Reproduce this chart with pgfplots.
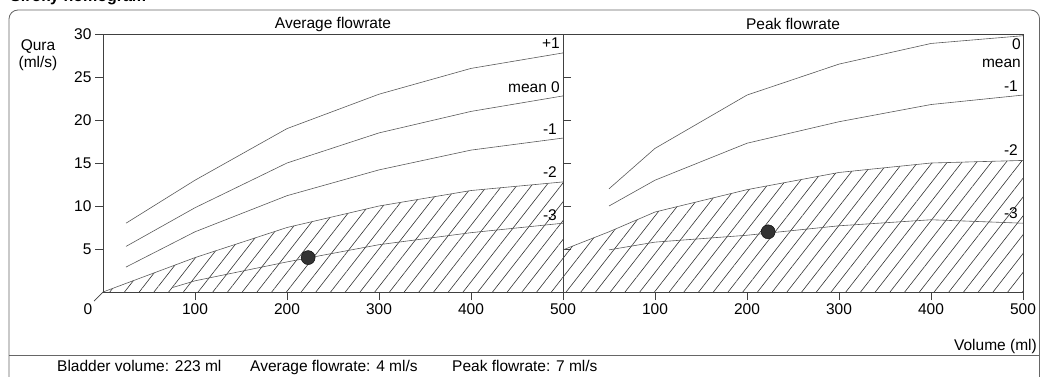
\documentclass[border=0pt]{standalone}
\usepackage{pgfplots}
\pgfplotsset{compat=1.18}
\usepackage{fontspec}
\setmainfont{Liberation Sans}
\usetikzlibrary{patterns.meta}
\definecolor{frame}{gray}{0.40}
\definecolor{axisc}{gray}{0.25}
\definecolor{curvec}{gray}{0.35}
\newcommand{\fs}{\fontsize{15.5}{18}\selectfont}
\pgfplotsset{/pgf/number format/assume math mode=true}
\begin{document}
\begin{tikzpicture}[x=1pt,y=1pt]
\useasboundingbox (0,0) rectangle (1040,376);
% outer frame
\draw[frame, line width=0.8pt, rounded corners=9pt] (9,-20) -- (9,366) -- (1039.6,366) -- (1039.6,-20);
\draw[frame, line width=0.9pt] (9,21) -- (1045,21);
\node[anchor=base west, inner sep=0pt, font=\bfseries\fontsize{16}{18}\selectfont] at (10,374) {Siroky nomogram};
% left panel
\begin{axis}[
  at={(103pt,84pt)}, anchor=south west, scale only axis,
  width=460pt, height=258pt,
  xmin=0, xmax=500, ymin=0, ymax=30,
  xtick={100,200,300,400,500}, ytick={5,10,...,30},
  xtick pos=bottom, ytick pos=both, yticklabel pos=left,
  tick align=outside, major tick length=8pt,
  axis line style={axisc, line width=0.8pt},
  every tick/.style={axisc, line width=0.7pt},
  ticklabel style={font=\fs, text=black},
  extra x ticks={0},
  extra x tick style={major tick length=0pt, xticklabel style={xshift=-15pt, yshift=-8pt}},
  axis on top, clip=false,
]
\addplot[draw=none, pattern={Lines[angle=52,distance=11.6pt,line width=0.6pt]}, pattern color=black!80]
  coordinates {(0,0)(100,4)(200,7.5)(300,10)(400,11.8)(500,12.8)} \closedcycle;
\addplot[curvec, line width=0.6pt] coordinates {(0,0)(100,4)(200,7.5)(300,10)(400,11.8)(500,12.8)};
\addplot[curvec, line width=0.6pt] coordinates {(25,8)(100,13)(200,19)(300,23)(400,26)(500,27.8)};
\addplot[curvec, line width=0.6pt] coordinates {(25,5.3)(100,9.8)(200,15)(300,18.5)(400,21)(500,22.8)};
\addplot[curvec, line width=0.6pt] coordinates {(25,2.9)(100,7)(200,11.2)(300,14.2)(400,16.5)(500,17.9)};
\addplot[curvec, line width=0.6pt] coordinates {(75,0.5)(100,1.3)(200,3.5)(300,5.5)(400,6.9)(500,8)};
\addplot[only marks, mark=*, mark size=7pt, mark options={fill=black!80, draw=black}] coordinates {(223,4)};
\draw[axisc, line width=0.7pt] (axis cs:0,0) -- ++(-9pt,-9pt);
\end{axis}
% right panel
\begin{axis}[
  at={(563pt,84pt)}, anchor=south west, scale only axis,
  width=460pt, height=258pt,
  xmin=0, xmax=500, ymin=0, ymax=30,
  xtick={100,200,300,400,500}, ytick=\empty,
  xtick pos=bottom,
  tick align=outside, major tick length=8pt,
  axis line style={axisc, line width=0.8pt},
  every tick/.style={axisc, line width=0.7pt},
  ticklabel style={font=\fs, text=black},
  axis on top, clip=false,
]
\addplot[draw=none, pattern={Lines[angle=52,distance=11.6pt,line width=0.6pt]}, pattern color=black!80]
  coordinates {(0,4.9)(50,7)(100,9.3)(200,11.9)(300,13.9)(400,15)(500,15.3)} \closedcycle;
\addplot[curvec, line width=0.6pt] coordinates {(0,4.9)(50,7)(100,9.3)(200,11.9)(300,13.9)(400,15)(500,15.3)};
\addplot[curvec, line width=0.6pt] coordinates {(50,12)(100,16.7)(200,22.9)(300,26.5)(400,28.9)(500,29.8)};
\addplot[curvec, line width=0.6pt] coordinates {(50,10)(100,13)(200,17.3)(300,19.8)(400,21.8)(500,22.9)};
\addplot[curvec, line width=0.6pt] coordinates {(50,4.9)(100,5.8)(200,6.6)(300,7.7)(400,8.4)(500,8)};
\addplot[only marks, mark=*, mark size=7pt, mark options={fill=black!80, draw=black}] coordinates {(223,7)};
\end{axis}
% titles and labels
\node[anchor=base, font=\fs] at (333,348) {Average flowrate};
\node[anchor=base, font=\fs] at (793,347) {Peak flowrate};
\node[anchor=base, font=\fs] at (38,326) {Qura};
\node[anchor=base, font=\fs] at (38,309) {(ml/s)};
\node[anchor=base east, inner sep=0pt, font=\fs] at (1037,26) {Volume (ml)};
% curve labels
\begin{scope}[every node/.style={anchor=base east, inner sep=0pt, font=\fs}]
\node at (560,328) {+1};
\node at (560,284) {mean 0};
\node at (557,242) {-1};
\node at (557,199) {-2};
\node at (557,156) {-3};
\node at (1021,327) {0};
\node at (1021,309) {mean};
\node at (1018,285) {-1};
\node at (1018,221) {-2};
\node at (1018,158) {-3};
\end{scope}
% footer
\begin{scope}[every node/.style={anchor=base west, inner sep=0pt, font=\fs}]
\node at (57,5) {Bladder volume: 223 ml};
\node at (250,5) {Average flowrate: 4 ml/s};
\node at (452,5) {Peak flowrate: 7 ml/s};
\end{scope}
\end{tikzpicture}
\end{document}
